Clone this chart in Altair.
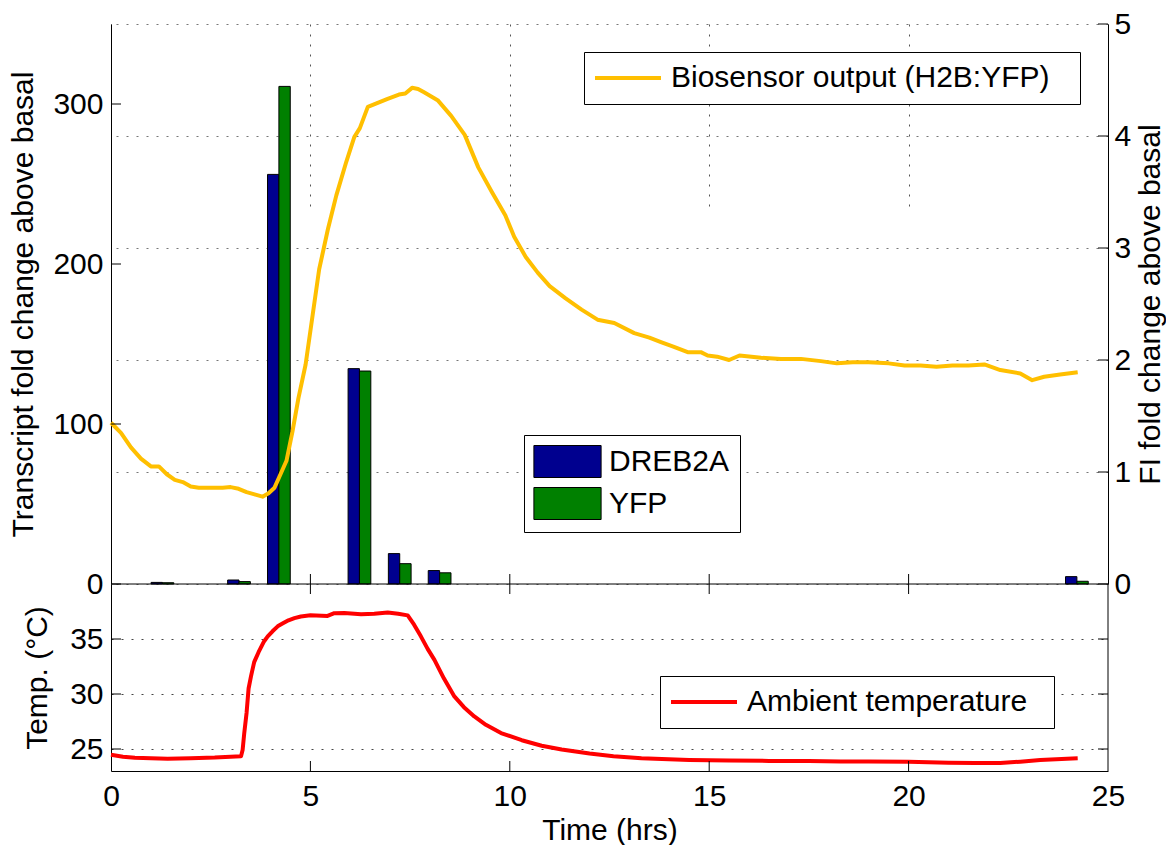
import altair as alt
import pandas as pd

FONT = "Liberation Sans"
W = 997          # plot width
H_TOP = 560      # height of the upper panel
H = 747          # total height of both panels
BAR_W = 0.285
DOT = [2, 8]
ORANGE = "#FFBF00"
BLUE = "#00008F"
GREEN = "#008000"
RED = "#FF0000"

# ---- data ----
bar_t = [1.29, 3.21, 4.21, 6.23, 7.24, 8.24, 24.22]
dreb2a = [1.0, 2.5, 256, 134.6, 19.0, 8.4, 4.6]
yfp = [0.8, 1.5, 311, 133.1, 12.7, 7.0, 1.7]

bio_t = [0.0, 0.25, 0.5, 0.75, 1.0, 1.2, 1.4, 1.6, 1.8, 2.0, 2.2, 2.5, 2.8, 3.0, 3.2,
         3.4, 3.6, 3.8, 3.95, 4.1, 4.25, 4.4, 4.55, 4.7, 4.88, 5.06, 5.22, 5.44, 5.65, 5.9,
         6.1, 6.24, 6.44, 6.58, 6.92, 7.22, 7.38, 7.55, 7.7, 7.85, 8.19, 8.53, 8.87, 9.21,
         9.55, 9.89, 10.11, 10.4, 10.7, 11.0, 11.4, 11.8, 12.2, 12.62, 13.12, 13.5, 13.79,
         14.1, 14.46, 14.79, 14.96, 15.2, 15.5, 15.76, 16.3, 16.8, 17.3, 17.8, 18.2, 18.6,
         19.0, 19.5, 19.9, 20.3, 20.7, 21.1, 21.5, 21.9, 22.3, 22.8, 23.1, 23.4, 23.8, 24.24]
bio_v = [1.44, 1.35, 1.22, 1.12, 1.05, 1.05, 0.98, 0.93, 0.91, 0.87, 0.86, 0.86, 0.86, 0.865,
         0.85, 0.82, 0.80, 0.78, 0.81, 0.86, 0.98, 1.10, 1.36, 1.66, 1.96, 2.41, 2.81, 3.17,
         3.47, 3.77, 3.99, 4.07, 4.26, 4.28, 4.33, 4.37, 4.38, 4.43, 4.42, 4.39, 4.32, 4.18,
         4.01, 3.72, 3.50, 3.29, 3.10, 2.92, 2.78, 2.66, 2.55, 2.45, 2.36, 2.33, 2.24, 2.20,
         2.16, 2.12, 2.07, 2.07, 2.04, 2.03, 2.00, 2.04, 2.02, 2.01, 2.01, 1.99, 1.97, 1.98,
         1.98, 1.97, 1.95, 1.95, 1.94, 1.95, 1.95, 1.96, 1.91, 1.88, 1.82, 1.85, 1.87, 1.89]

temp_t = [0.0, 0.3, 0.6, 1.0, 1.42, 2.0, 2.6, 3.0, 3.26, 3.30, 3.34, 3.40, 3.45, 3.51, 3.59,
          3.70, 3.84, 3.93, 4.05, 4.18, 4.30, 4.45, 4.60, 4.76, 5.0, 5.43, 5.6, 5.85, 6.27,
          6.6, 6.94, 7.2, 7.44, 7.6, 7.77, 7.94, 8.11, 8.35, 8.61, 8.85, 9.11, 9.4, 9.78,
          10.3, 10.8, 11.3, 12.0, 12.6, 13.3, 14.5, 15.5, 16.5, 17.5, 18.3, 19.0, 20.0, 21.0,
          21.65, 22.3, 22.8, 23.3, 24.24]
temp_v = [24.48, 24.3, 24.2, 24.15, 24.12, 24.16, 24.22, 24.3, 24.33, 24.9, 26.4, 28.3, 30.5,
          31.6, 32.9, 33.8, 34.8, 35.24, 35.7, 36.15, 36.4, 36.7, 36.9, 37.05, 37.15, 37.1,
          37.35, 37.36, 37.25, 37.3, 37.4, 37.3, 37.15, 36.3, 35.24, 34.1, 33.1, 31.4, 29.78,
          28.8, 27.96, 27.2, 26.45, 25.8, 25.3, 24.95, 24.6, 24.35, 24.15, 24.0, 23.95, 23.92,
          23.9, 23.87, 23.86, 23.85, 23.75, 23.73, 23.73, 23.85, 24.0, 24.15]

x_ticks = [0, 5, 10, 15, 20, 25]
x_inner = [5, 10, 15, 20]
left_ticks = [0, 100, 200, 300]
right_ticks = [0, 1, 2, 3, 4, 5]
temp_ticks = [25, 30, 35]
x_range = [0, 25]
temp_range = [23, 40]

BIO_LABEL = "Biosensor output (H2B:YFP)"
TEMP_LABEL = "Ambient temperature"

# scales: the upper panel uses the top 560 px, the temperature panel the rest
xs = alt.Scale(domain=x_range, nice=False, zero=False)
yl = alt.Scale(domain=[0, 350], nice=False, range=[H_TOP, 0])
yr = alt.Scale(domain=[0, 5], nice=False, range=[H_TOP, 0])
yt = alt.Scale(domain=temp_range, nice=False, zero=False, range=[H, H_TOP])

# one identical x-axis definition, shared by every layer
X_AXIS = alt.Axis(values=x_ticks, title="Time (hrs)", grid=True, gridDash=DOT,
                  gridColor="#555555", ticks=False, tickSize=0, labelPadding=10,
                  titlePadding=4, labelFlush=False, labelOverlap=False)


def X(field):
    return alt.X(field, scale=xs, axis=X_AXIS)


def line_legend(x, y, extra_right):
    # an empty title on the right only widens the box on that side, as in the figure
    return alt.Legend(title=" ", titleOrient="right", titleFontSize=1, titlePadding=extra_right,
                      orient="none", legendX=x, legendY=y, direction="vertical",
                      strokeColor="black", fillColor="white", padding=11,
                      labelFont=FONT, labelFontSize=30, labelColor="black", labelLimit=800,
                      symbolType="M-3,0H3", symbolSize=484, symbolStrokeWidth=4,
                      symbolOffset=18, labelOffset=28)


def hticks(values, scale, x_from, x_to):
    return alt.Chart(pd.DataFrame({"tv": values})).mark_rule(color="black", strokeWidth=1).encode(
        y=alt.Y("tv:Q", scale=scale, axis=None), x=alt.value(x_from), x2=alt.value(x_to))


def vticks(values, y_from, y_to):
    return alt.Chart(pd.DataFrame({"tx": values})).mark_rule(color="black", strokeWidth=1).encode(
        x=X("tx:Q"), y=alt.value(y_from), y2=alt.value(y_to))


# ---- lower panel: ambient temperature ----
temp_df = pd.DataFrame({"t": temp_t, "temp": temp_v, "series": TEMP_LABEL})
temp = alt.Chart(temp_df).mark_line(strokeWidth=4, strokeJoin="round").encode(
    x=X("t:Q"),
    y=alt.Y("temp:Q", scale=yt,
            axis=alt.Axis(orient="left", values=temp_ticks, title="Temp. (°C)", grid=True,
                          gridDash=DOT, gridColor="#444444", ticks=False, tickSize=0,
                          labelPadding=8, titlePadding=17, labelOverlap=False)),
    color=alt.Color("series:N", scale=alt.Scale(domain=[TEMP_LABEL], range=[RED]),
                    legend=line_legend(549, 652, 16)),
)

# ---- upper panel: bars + biosensor line ----
bars_df = pd.DataFrame({
    "t": bar_t + bar_t,
    "value": dreb2a + yfp,
    "series": ["DREB2A"] * len(bar_t) + ["YFP"] * len(bar_t),
})

bars = alt.Chart(bars_df).transform_calculate(
    x0=f"datum.series == 'DREB2A' ? datum.t - {BAR_W} : datum.t",
    x1=f"datum.series == 'DREB2A' ? datum.t : datum.t + {BAR_W}",
    base="0",
).mark_bar(stroke="black", strokeWidth=1).encode(
    x=X("x0:Q"),
    x2="x1:Q",
    y=alt.Y("value:Q", scale=yl,
            axis=alt.Axis(orient="left", values=left_ticks,
                          title="Transcript fold change above basal",
                          grid=False, ticks=False, tickSize=0, labelPadding=8, titlePadding=14,
                          labelOverlap=False)),
    y2="base:Q",
    fill=alt.Fill("series:N", scale=alt.Scale(domain=["DREB2A", "YFP"], range=[BLUE, GREEN]),
                  legend=alt.Legend(title=None, orient="none", legendX=413, legendY=411,
                                    direction="vertical", strokeColor="black",
                                    fillColor="white", padding=10, rowPadding=5,
                                    labelFont=FONT, labelFontSize=30, labelColor="black",
                                    symbolType="M-2.1,-1H2.1V1H-2.1Z", symbolSize=1024,
                                    symbolStrokeColor="black", symbolStrokeWidth=1,
                                    symbolOffset=17, labelOffset=25)),
)

bio_df = pd.DataFrame({"t": bio_t, "v": bio_v, "series": BIO_LABEL})
bio = alt.Chart(bio_df).mark_line(strokeWidth=4, strokeJoin="round").encode(
    x=X("t:Q"),
    y=alt.Y("v:Q", scale=yr,
            axis=alt.Axis(orient="right", values=right_ticks, title="FI fold change above basal",
                          titleAngle=270, titleBaseline="top", grid=True, gridDash=DOT,
                          gridColor="#777777", ticks=False, tickSize=0, labelPadding=6,
                          titlePadding=5, labelOverlap=False)),
    stroke=alt.Stroke("series:N", scale=alt.Scale(domain=[BIO_LABEL], range=[ORANGE]),
                      legend=line_legend(473, 28, 19)),
)

# panel frame: divider between panels and right edge of the lower panel
divider = alt.Chart(pd.DataFrame({"xa": [x_range[0]], "xb": [x_range[1]], "v": [0]})).mark_rule(
    color="black", strokeWidth=1).encode(
    x=X("xa:Q"), x2="xb:Q", y=alt.Y("v:Q", scale=yl, axis=None))
right_edge = alt.Chart(pd.DataFrame({"xr": [x_range[1]], "ta": [temp_range[0]],
                                     "tb": [temp_range[1]]})).mark_rule(
    color="black", strokeWidth=1).encode(
    x=X("xr:Q"), y=alt.Y("ta:Q", scale=yt, axis=None), y2="tb:Q")

chart = alt.layer(
    temp, bars, bio, divider, right_edge,
    hticks(left_ticks, yl, 0, 10),
    hticks(right_ticks, yr, W - 10, W),
    hticks(temp_ticks, yt, 0, 10),
    hticks(temp_ticks, yt, W - 10, W),
    vticks(x_inner, H_TOP - 10, H_TOP + 10),
    vticks(x_inner, H - 10, H),
).resolve_scale(y="independent").properties(
    width=W, height=H, padding={"left": 8, "top": 9, "right": 0, "bottom": 0}
).configure_view(stroke=None).configure_axis(
    labelFont=FONT, labelFontSize=30, labelColor="black",
    titleFont=FONT, titleFontSize=30, titleFontWeight="normal", titleColor="black",
    domainColor="black", domainWidth=1,
).configure_legend(labelFont=FONT, labelFontSize=30, labelColor="black")

chart.save("out.html", embed_options={"renderer": "svg", "actions": False})
